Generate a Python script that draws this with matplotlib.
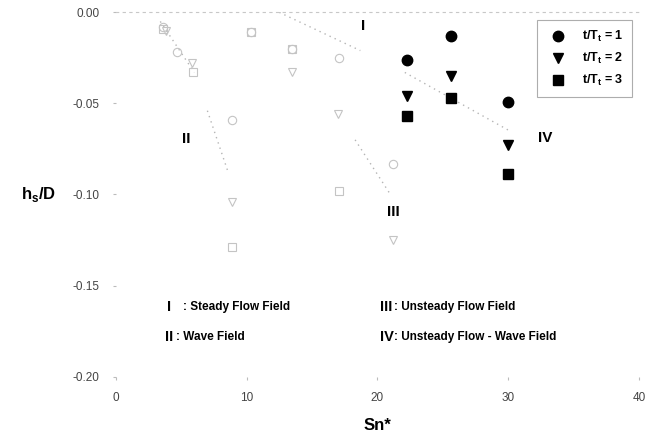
import numpy as np
import matplotlib.pyplot as plt

plt.rcParams['font.family'] = ['Liberation Sans', 'DejaVu Sans']
plt.rcParams['axes.unicode_minus'] = False

# datos principales (marcadores rellenos)
sn_main = [22.3, 25.6, 30.0]
h_t1 = [-0.026, -0.013, -0.049]
h_t2 = [-0.046, -0.035, -0.073]
h_t3 = [-0.057, -0.047, -0.089]

# datos tenues (marcadores huecos, escaneados)
sn_c = [3.6, 4.7, 10.3, 13.5, 17.1, 8.9, 21.2]
h_c = [-0.008, -0.022, -0.011, -0.020, -0.025, -0.059, -0.083]
sn_v = [3.8, 5.8, 13.5, 17.0, 8.9, 21.2]
h_v = [-0.010, -0.028, -0.033, -0.056, -0.104, -0.125]
sn_s = [3.6, 5.9, 10.3, 13.5, 17.1, 8.9]
h_s = [-0.009, -0.033, -0.011, -0.020, -0.098, -0.129]

# lineas de separacion de regiones
lineas = [
    ([3.4, 6.0], [-0.005, -0.033]),
    ([7.0, 8.6], [-0.054, -0.088]),
    ([12.5, 18.7], [0.0, -0.021]),
    ([22.1, 30.1], [-0.033, -0.065]),
    ([18.3, 21.0], [-0.070, -0.100]),
]

fig = plt.figure(figsize=(6.62, 4.41), dpi=100)
ax = fig.add_axes([0.175, 0.146, 0.79, 0.826])

gris = '#c4c4c4'
for xs, ys in lineas:
    ax.plot(xs, ys, color='#b5b5b5', linestyle=(0, (1, 3)), lw=1)

ax.plot(sn_c, h_c, 'o', mfc='none', mec=gris, ms=6, mew=0.8)
ax.plot(sn_v, h_v, 'v', mfc='none', mec=gris, ms=6, mew=0.8)
ax.plot(sn_s, h_s, 's', mfc='none', mec=gris, ms=6, mew=0.8)

ax.plot(sn_main, h_t1, 'o', color='black', ms=7.5, ls='none', label=r't/T$_\mathregular{t}$ = 1')
ax.plot(sn_main, h_t2, 'v', color='black', ms=7.5, ls='none', label=r't/T$_\mathregular{t}$ = 2')
ax.plot(sn_main, h_t3, 's', color='black', ms=6.5, ls='none', label=r't/T$_\mathregular{t}$ = 3')

ax.set_xlim(0, 40)
ax.set_ylim(-0.20, 0.0)
ax.set_xticks([0, 10, 20, 30, 40])
ax.set_yticks([0.0, -0.05, -0.10, -0.15, -0.20])
ax.set_yticklabels(['0.00', '-0.05', '-0.10', '-0.15', '-0.20'])
ax.tick_params(axis='both', colors='#bbbbbb', labelcolor='#444444', labelsize=8.5, length=2)
ax.tick_params(axis='x', pad=9)
ax.tick_params(axis='y', pad=10)

for s in ['right', 'bottom', 'left']:
    ax.spines[s].set_visible(False)
ax.spines['top'].set_color('#c8c8c8')
ax.spines['top'].set_linestyle((0, (2, 4)))
ax.spines['top'].set_linewidth(0.8)

ax.set_xlabel('Sn*', fontsize=12, fontweight='bold', labelpad=10)
ax.set_ylabel(r'h$_\mathregular{s}$/D', fontsize=12, fontweight='bold', rotation=0, labelpad=24, va='center')

leg = ax.legend(loc='upper right', bbox_to_anchor=(0.987, 0.978), borderaxespad=0, frameon=True,
                fancybox=False, fontsize=9, handletextpad=0.9, labelspacing=0.55, borderpad=0.7)
leg.get_frame().set_edgecolor('#999999')
leg.get_frame().set_linewidth(0.8)
for t in leg.get_texts():
    t.set_fontweight('bold')

# etiquetas de region
ax.text(18.9, -0.0075, 'I', fontsize=11, fontweight='bold', ha='center', va='center')
ax.text(5.4, -0.0695, 'II', fontsize=11, fontweight='bold', ha='center', va='center')
ax.text(21.2, -0.1096, 'III', fontsize=11, fontweight='bold', ha='center', va='center')
ax.text(32.8, -0.069, 'IV', fontsize=11, fontweight='bold', ha='center', va='center')

# leyenda de regiones
ax.text(3.9, -0.1617, 'I', fontsize=10.5, fontweight='bold', va='center')
ax.text(5.1, -0.1617, ': Steady Flow Field', fontsize=8.5, fontweight='bold', va='center')
ax.text(3.75, -0.178, 'II', fontsize=10.5, fontweight='bold', va='center')
ax.text(4.6, -0.178, ': Wave Field', fontsize=8.5, fontweight='bold', va='center')
ax.text(20.2, -0.1617, 'III', fontsize=10.5, fontweight='bold', va='center')
ax.text(21.3, -0.1617, ': Unsteady Flow Field', fontsize=8.5, fontweight='bold', va='center')
ax.text(20.2, -0.178, 'IV', fontsize=10.5, fontweight='bold', va='center')
ax.text(21.3, -0.178, ': Unsteady Flow - Wave Field', fontsize=8.5, fontweight='bold', va='center')

fig.savefig('out.png', dpi=100)
